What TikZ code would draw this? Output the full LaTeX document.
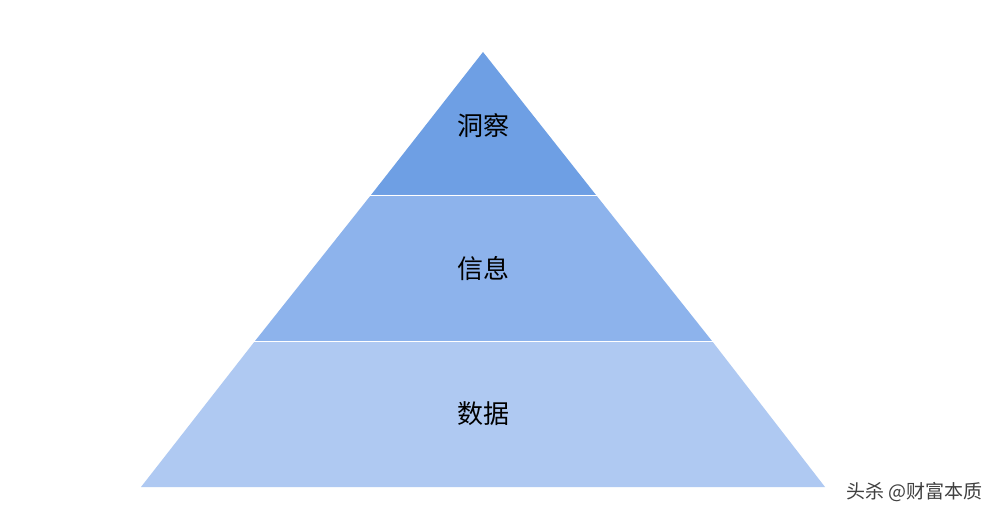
\documentclass[tikz,border=0pt]{standalone}
\usepackage{fontspec}
\newfontfamily\cjk{Noto Sans CJK SC}
\definecolor{ctop}{HTML}{6E9FE4}
\definecolor{cmid}{HTML}{8DB3EC}
\definecolor{cbot}{HTML}{AFC9F2}
\tikzset{layer/.style={draw=white,line width=1.5pt},
 lbl/.style={font=\cjk\fontsize{26}{26}\selectfont,text=black},
 wm/.style={font=\cjk\fontsize{19}{19}\selectfont,text=black!75}}
\begin{document}
\begin{tikzpicture}[x=1pt,y=-1pt]
\useasboundingbox[fill=white] (0,0) rectangle (998,521);
\fill[ctop] (483,52) -- (596,195) -- (371,195) -- cycle;
\fill[cmid] (371,195) -- (596,195) -- (712,341) -- (255,341) -- cycle;
\fill[cbot] (255,341) -- (712,341) -- (825,487) -- (141,487) -- cycle;
\draw[layer] (360,195.5) -- (606,195.5);
\draw[layer] (245,341.5) -- (722,341.5);
\node[lbl] (a) at (483,126) {洞察};
\node[lbl] (b) at (483,269) {信息};
\node[lbl] (c) at (483,414) {数据};
\node[wm,anchor=east] (w) at (986,492) {头杀 @财富本质};
\end{tikzpicture}
\end{document}
